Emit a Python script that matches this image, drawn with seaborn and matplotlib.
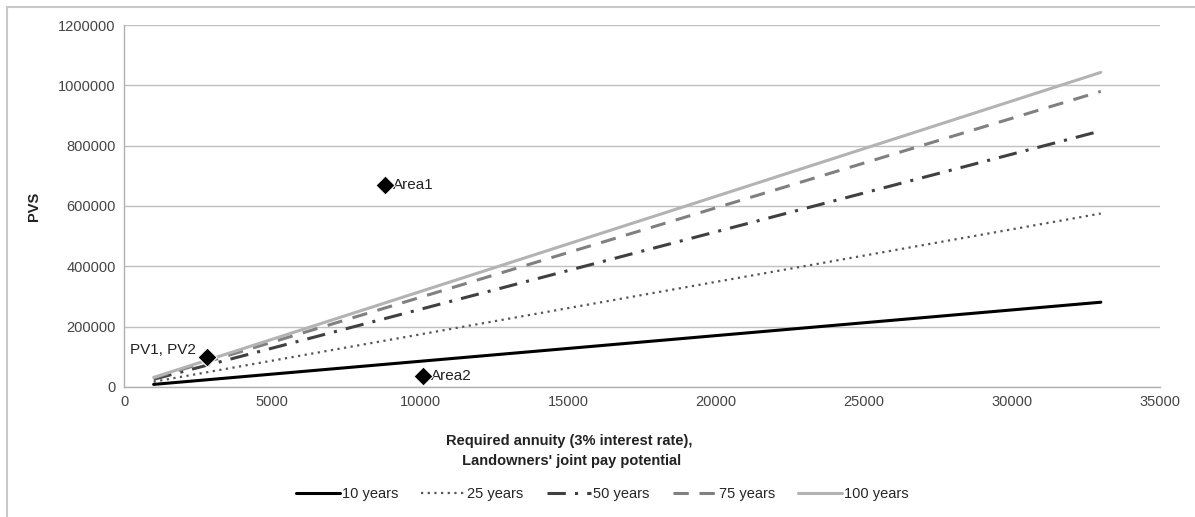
import matplotlib
matplotlib.use("Agg")
import matplotlib.pyplot as plt
import seaborn as sns
import pandas as pd
from matplotlib.patches import Rectangle
from matplotlib.lines import Line2D

sns.set_style("white")
plt.rcParams['font.family'] = ['Liberation Sans', 'DejaVu Sans']

annuity = [1000, 33000]
pv_10 = [8530, 281000]
pv_25 = [17400, 575000]
pv_50 = [25700, 849000]
pv_75 = [29700, 980000]
pv_100 = [31600, 1043000]
series_names = ["10 years", "25 years", "50 years", "75 years", "100 years"]

point_labels = ["Area1", "Area2", "PV1, PV2"]
point_x = [8800, 10100, 2800]
point_y = [670000, 38000, 100000]

styles = {
    "10 years": dict(color="black", ls="-", lw=2.2),
    "25 years": dict(color="#555555", ls=(0, (1, 2)), lw=1.6),
    "50 years": dict(color="#404040", ls=(0, (6, 3, 1, 3)), lw=2.2),
    "75 years": dict(color="#808080", ls=(0, (5, 3.5)), lw=2.2),
    "100 years": dict(color="#b3b3b3", ls="-", lw=2.2),
}

rows = []
for name, vals in zip(series_names, [pv_10, pv_25, pv_50, pv_75, pv_100]):
    for x, y in zip(annuity, vals):
        rows.append(dict(annuity=x, pv=y, series=name))
df = pd.DataFrame(rows)

fig = plt.figure(figsize=(11.95, 5.17), dpi=100)
ax = fig.add_axes([0.1038, 0.2515, 0.8669, 0.7001])

handles = []
for name in series_names:
    sub = df[df.series == name]
    st = styles[name]
    sns.lineplot(data=sub, x="annuity", y="pv", ax=ax, color=st["color"],
                 linestyle=st["ls"], linewidth=st["lw"], legend=False)
    handles.append(Line2D([0], [0], color=st["color"], linestyle=st["ls"], linewidth=st["lw"]))

pts = pd.DataFrame(dict(x=point_x, y=point_y, label=point_labels))
sns.scatterplot(data=pts, x="x", y="y", ax=ax, marker="D", s=95, color="black",
                edgecolor="white", linewidth=0.8, legend=False, zorder=5)
for lab, x, y in zip(point_labels, point_x, point_y):
    if lab == "PV1, PV2":
        ax.annotate(lab, (x, y), xytext=(-8, 5), textcoords="offset points",
                    ha="right", va="center", fontsize=11, color="#222222")
    else:
        ax.annotate(lab, (x, y), xytext=(6, 0), textcoords="offset points",
                    ha="left", va="center", fontsize=11, color="#222222")

ax.set_xlim(0, 35000)
ax.set_ylim(0, 1200000)
ax.set_xticks(range(0, 35001, 5000))
ax.set_yticks(range(0, 1200001, 200000))
ax.ticklabel_format(style="plain")
ax.yaxis.grid(True, color="#c0c0c0", linewidth=1)
ax.xaxis.grid(False)
for s in ["top", "right"]:
    ax.spines[s].set_visible(False)
for s in ["left", "bottom"]:
    ax.spines[s].set_color("#b0b0b0")
    ax.spines[s].set_linewidth(1)
ax.tick_params(axis="both", labelsize=10.5, colors="#444444", length=0, pad=6)
ax.set_xlabel("Required annuity (3% interest rate),\n Landowners' joint pay potential",
              fontsize=10.5, fontweight="bold", color="#222222", linespacing=1.5)
ax.xaxis.set_label_coords(0.43, -0.13)
ax.set_ylabel("PVS", fontsize=10.5, fontweight="bold", color="#222222", labelpad=12)

fig.legend(handles, series_names, loc="center", bbox_to_anchor=(0.504, 0.045),
           ncol=5, frameon=False, fontsize=10.5, handlelength=3.0, columnspacing=1.6,
           handletextpad=0.15)

fig.patches.append(Rectangle((7 / 1195, -0.1), 1.2, 1 - 7 / 517 + 0.1, transform=fig.transFigure,
                             fill=False, edgecolor="#c8c8c8", linewidth=1.5))

fig.savefig("out.png", dpi=100)
